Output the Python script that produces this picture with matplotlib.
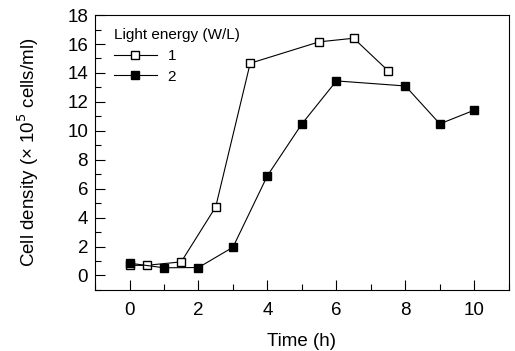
import matplotlib.pyplot as plt
from matplotlib.ticker import MultipleLocator

plt.rcParams['font.family'] = ['Liberation Sans', 'DejaVu Sans']

# series 1 (open squares)
t1 = [0, 0.5, 1.5, 2.5, 3.5, 5.5, 6.5, 7.5]
d1 = [0.7, 0.7, 0.94, 4.74, 14.67, 16.15, 16.4, 14.15]
# series 2 (filled squares)
t2 = [0, 1, 2, 3, 4, 5, 6, 8, 9, 10]
d2 = [0.85, 0.53, 0.55, 1.95, 6.9, 10.48, 13.45, 13.1, 10.48, 11.43]

fig = plt.figure(figsize=(5.15, 3.51), dpi=100)
ax = fig.add_axes([0.1845, 0.174, 0.8035, 0.783])

ax.plot(t1, d1, color='black', linewidth=0.8, marker='s', markersize=6,
        markerfacecolor='white', markeredgecolor='black', markeredgewidth=1, label='1')
ax.plot(t2, d2, color='black', linewidth=0.8, marker='s', markersize=6,
        markerfacecolor='black', markeredgecolor='black', label='2')

ax.set_xlim(-1, 11)
ax.set_ylim(-1, 18)
ax.xaxis.set_major_locator(MultipleLocator(2))
ax.xaxis.set_minor_locator(MultipleLocator(1))
ax.yaxis.set_major_locator(MultipleLocator(2))
ax.yaxis.set_minor_locator(MultipleLocator(1))
ax.tick_params(which='major', direction='in', length=7, width=0.8, labelsize=13.5)
ax.tick_params(which='minor', direction='in', length=4, width=0.8)
ax.tick_params(axis='x', pad=9)
ax.tick_params(axis='y', pad=5)

ax.set_xlabel('Time (h)', fontsize=13.5, labelpad=10)
ax.set_ylabel('Cell density (× 10$^5$ cells/ml)', fontsize=13.5, labelpad=19)

leg = ax.legend(title='Light energy (W/L)', loc='upper left', frameon=False,
                bbox_to_anchor=(0.046, 0.953), borderaxespad=0, borderpad=0,
                fontsize=11, title_fontsize=11, handlelength=2.8,
                labelspacing=0.45, handletextpad=0.7, markerscale=0.85)
leg._legend_box.align = 'left'

fig.savefig('out.png', dpi=100)
